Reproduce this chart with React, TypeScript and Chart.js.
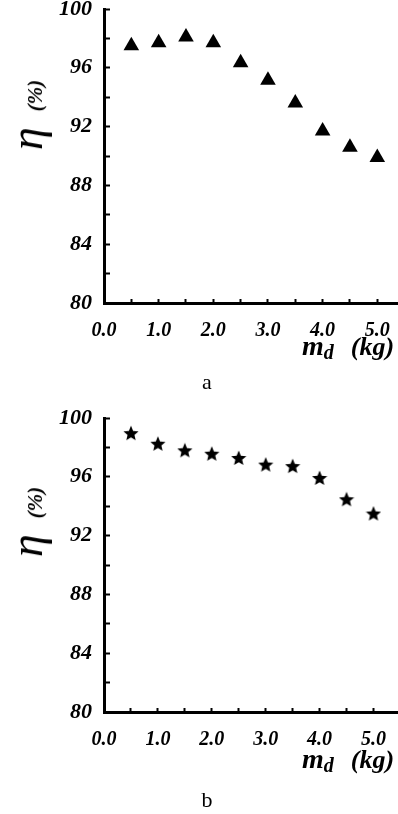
import React, { useEffect, useRef } from 'react';
import { Chart, registerables } from 'chart.js';

Chart.register(...registerables);

// ---- data ----
const massKg = [0.5, 1.0, 1.5, 2.0, 2.5, 3.0, 3.5, 4.0, 4.5, 5.0];
const efficiencyA = [97.5, 97.7, 98.1, 97.7, 96.35, 95.15, 93.6, 91.7, 90.6, 89.9];
const efficiencyB = [98.97, 98.25, 97.8, 97.57, 97.28, 96.83, 96.73, 95.92, 94.47, 93.5];

const yTickValues = [80, 82, 84, 86, 88, 90, 92, 94, 96, 98, 100];
const yLabelValues = [80, 84, 88, 92, 96, 100];
const xTickValues = [0, 0.5, 1.0, 1.5, 2.0, 2.5, 3.0, 3.5, 4.0, 4.5, 5.0];
const xLabelValues = [0, 1, 2, 3, 4, 5];

const SERIF = '"Liberation Serif", "Times New Roman", serif';
const CANVAS_W = 430; // axis runs past the right edge of the 398px view, as in the reference

function makeStar(size: number): HTMLCanvasElement {
  const c = document.createElement('canvas');
  c.width = size;
  c.height = size;
  const ctx = c.getContext('2d')!;
  const cx = size / 2;
  const cy = size / 2 + 0.6;
  const outer = size / 2;
  const inner = outer * 0.45;
  ctx.beginPath();
  for (let i = 0; i < 10; i++) {
    const r = i % 2 === 0 ? outer : inner;
    const a = -Math.PI / 2 + (i * Math.PI) / 5;
    const px = cx + r * Math.cos(a);
    const py = cy + r * Math.sin(a);
    if (i === 0) ctx.moveTo(px, py);
    else ctx.lineTo(px, py);
  }
  ctx.closePath();
  ctx.fillStyle = '#000';
  ctx.fill();
  return c;
}

type PanelProps = {
  values: number[];
  marker: 'triangle' | 'star';
  top: number;
  padTop: number;
  xMax: number;
  xAxisHeight: number;
};

function Panel({ values, marker, top, padTop, xMax, xAxisHeight }: PanelProps) {
  const ref = useRef<HTMLCanvasElement | null>(null);
  useEffect(() => {
    if (!ref.current) return;
    const pointStyle: any = marker === 'star' ? makeStar(16) : 'triangle';
    const tickFont = (size: number) => ({ family: SERIF, size, style: 'italic' as const, weight: 'bold' as const });
    const chart = new Chart(ref.current, {
      type: 'scatter',
      data: {
        datasets: [
          {
            data: massKg.map((x, i) => ({ x, y: values[i] })),
            pointStyle,
            pointRadius: marker === 'star' ? 8 : 9,
            backgroundColor: '#000',
            borderColor: '#000',
            borderWidth: 0,
            showLine: false,
          },
        ],
      },
      options: {
        animation: false,
        responsive: false,
        maintainAspectRatio: false,
        layout: { padding: { top: padTop, left: 0, right: 0, bottom: 0 } },
        plugins: { legend: { display: false }, tooltip: { enabled: false } },
        scales: {
          x: {
            type: 'linear',
            min: 0,
            max: xMax,
            afterBuildTicks: (s: any) => {
              s.ticks = xTickValues.map((v) => ({ value: v }));
            },
            afterFit: (s: any) => {
              s.height = xAxisHeight;
            },
            grid: { drawOnChartArea: false, drawTicks: true, tickLength: -4, tickWidth: 2, tickColor: '#000' },
            border: { display: true, color: '#000', width: 3 },
            ticks: {
              autoSkip: false,
              maxRotation: 0,
              padding: 20,
              color: '#000',
              font: tickFont(20),
              callback: (v: any) => (xLabelValues.includes(Number(v)) ? Number(v).toFixed(1) : ''),
            },
          },
          y: {
            type: 'linear',
            min: 80,
            max: 100,
            afterBuildTicks: (s: any) => {
              s.ticks = yTickValues.map((v) => ({ value: v }));
            },
            afterFit: (s: any) => {
              s.width = 104;
              s.paddingTop = 0;
              s.paddingBottom = 0;
            },
            grid: { drawOnChartArea: false, drawTicks: true, tickLength: -6, tickWidth: 2, tickColor: '#000' },
            border: { display: true, color: '#000', width: 3 },
            ticks: {
              autoSkip: false,
              padding: 18,
              color: '#000',
              font: tickFont(22),
              callback: (v: any) => (yLabelValues.includes(Number(v)) ? String(v) : ''),
            },
          },
        },
      },
    });
    return () => chart.destroy();
  }, [values, marker, padTop, xMax, xAxisHeight]);
  return (
    <canvas
      ref={ref}
      width={CANVAS_W}
      height={340}
      style={{ position: 'absolute', left: 0, top, width: CANVAS_W, height: 340 }}
    />
  );
}

function YTitle({ cy }: { cy: number }) {
  return (
    <div
      style={{
        position: 'absolute',
        left: 27,
        top: cy,
        transform: 'translate(-50%, -50%) rotate(-90deg)',
        whiteSpace: 'nowrap',
        fontFamily: SERIF,
        lineHeight: 1,
        color: '#000',
      }}
    >
      <span style={{ fontSize: 46, fontStyle: 'italic' }}>η</span>
      <span style={{ fontSize: 21, fontStyle: 'italic', fontWeight: 'bold', marginLeft: 16 }}>(%)</span>
    </div>
  );
}

function XTitle({ topY }: { topY: number }) {
  return (
    <div
      style={{
        position: 'absolute',
        left: 302,
        top: topY,
        whiteSpace: 'nowrap',
        fontFamily: SERIF,
        fontStyle: 'italic',
        fontWeight: 'bold',
        lineHeight: 1,
        color: '#000',
      }}
    >
      <span style={{ fontSize: 28 }}>m</span>
      <sub style={{ fontSize: 20 }}>d</sub>
      <span style={{ fontSize: 26, marginLeft: 17 }}>(kg)</span>
    </div>
  );
}

function Caption({ text, cy }: { text: string; cy: number }) {
  return (
    <div
      style={{
        position: 'absolute',
        left: 207,
        top: cy,
        transform: 'translate(-50%, -50%)',
        fontFamily: SERIF,
        fontSize: 22,
        lineHeight: 1,
        color: '#000',
      }}
    >
      {text}
    </div>
  );
}

export default function App() {
  return (
    <div style={{ position: 'absolute', left: 0, top: 0, width: 398, height: 814, background: '#fff', overflow: 'hidden' }}>
      <Panel values={efficiencyA} marker="triangle" top={0} padTop={7} xMax={5.8} xAxisHeight={37} />
      <YTitle cy={115} />
      <XTitle topY={332} />
      <Caption text="a" cy={382} />

      <Panel values={efficiencyB} marker="star" top={410} padTop={8} xMax={5.9} xAxisHeight={38} />
      <YTitle cy={522} />
      <XTitle topY={745} />
      <Caption text="b" cy={800} />
    </div>
  );
}
